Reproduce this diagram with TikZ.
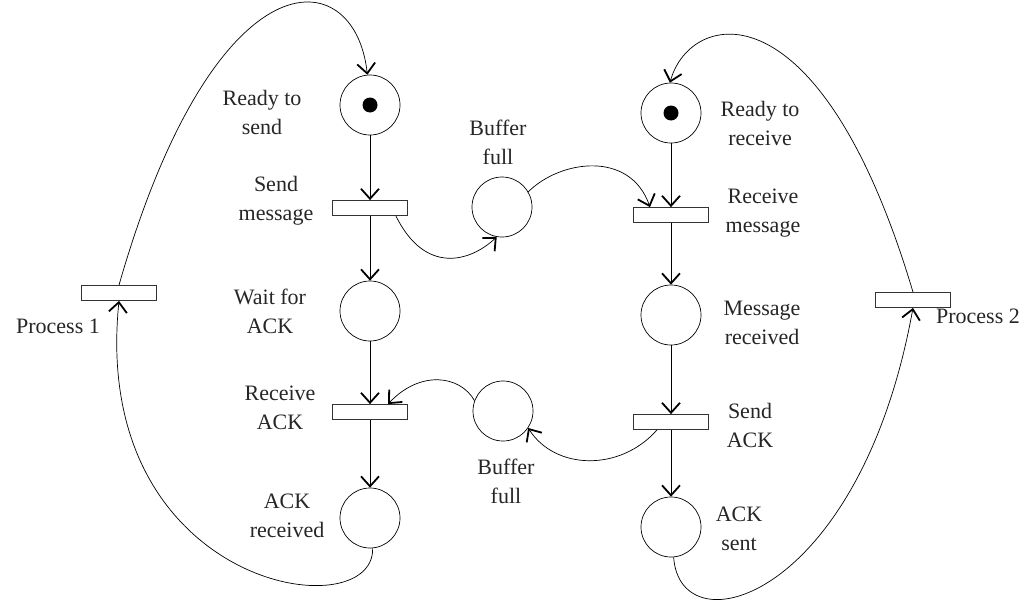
\documentclass[tikz,border=0pt]{standalone}
\usepackage{fontspec}
\setmainfont{Liberation Serif}
\usetikzlibrary{arrows.meta}
\begin{document}
\begin{tikzpicture}[x=1pt,y=-1pt,
  place/.style={circle,draw,line width=0.7pt,minimum size=60pt,inner sep=0pt},
  trans/.style={rectangle,draw=black!80,line width=0.8pt,minimum width=75pt,minimum height=15pt,inner sep=0pt},
  token/.style={circle,fill=black,minimum size=15pt,inner sep=0pt},
  lbl/.style={align=center,font=\fontsize{22}{29}\selectfont,text=black!85,inner sep=0pt},
  arr/.style={line width=0.7pt,-{Straight Barb[length=10pt,width=18pt,line width=1.8pt]}},
  ln/.style={line width=0.7pt}]
\useasboundingbox (0,0) rectangle (1031,608);
% places and transitions, left
\node[place] (rs) at (370,105) {};
\node[token] (rst) at (370,105) {};
\node[trans] (sm) at (370,208) {};
\node[place] (wa) at (370,311) {};
\node[trans] (ra) at (370,412) {};
\node[place] (ar) at (370,518) {};
\node[trans] (p1) at (119,293) {};
% middle
\node[place] (bf1) at (502,207) {};
\node[place] (bf2) at (503,411) {};
% right
\node[place] (rr) at (671,113) {};
\node[token] (rrt) at (671,113) {};
\node[trans] (rm) at (671,215) {};
\node[place] (mr) at (671,315) {};
\node[trans] (sa) at (671,422) {};
\node[place] (as) at (671,527) {};
\node[trans] (p2) at (913,300) {};
% labels
\node[lbl] (l1) at (262,112) {Ready to\\send};
\node[lbl] (l2) at (276,201) {Send\\message};
\node[lbl] (l3) at (270,311) {Wait for\\ACK};
\node[lbl] (l4) at (280,408) {Receive\\ACK};
\node[lbl] (l5) at (287,516) {ACK\\received};
\node[lbl] (l6) at (498,142) {Buffer\\full};
\node[lbl] (l7) at (506,481) {Buffer\\full};
\node[lbl] (l8) at (760,123) {Ready to\\receive};
\node[lbl] (l9) at (763,213) {Receive\\message};
\node[lbl] (l10) at (762,323) {Message\\received};
\node[lbl] (l11) at (750,425) {Send\\ACK};
\node[lbl] (l12) at (739,529) {ACK\\sent};
\node[lbl] (l13) at (58,326) {Process 1};
\node[lbl] (l14) at (978,316) {Process 2};
% vertical arcs
\draw[arr] (rs) -- (sm);
\draw[arr] (sm) -- (wa);
\draw[arr] (wa) -- (ra);
\draw[arr] (ra) -- (ar);
\draw[arr] (rr) -- (rm);
\draw[arr] (rm) -- (mr);
\draw[arr] (mr) -- (sa);
\draw[arr] (sa) -- (as);
% curved arcs
\draw[arr] (p1.north) .. controls (215,-50) and (355,-40) .. (rs.95);
\draw[arr] (ar.-85) .. controls (375,630) and (90,590) .. (p1.south);
\draw[arr] ([xshift=-12pt]sm.south east) .. controls (425,275) and (470,262) .. (bf1.-100);
\draw[arr] (bf1.30) .. controls (560,160) and (630,150) .. ([xshift=-21pt]rm.north);
\draw[arr] ([xshift=-14pt]sa.south) .. controls (620,472) and (555,470) .. (bf2.-34);
\draw[arr] (bf2.160) .. controls (460,375) and (420,370) .. ([xshift=18pt]ra.north);
\draw[arr] (p2.north) .. controls (820,-20) and (690,10) .. (rr.92);
\draw[arr] (as.-85) .. controls (680,650) and (860,600) .. (p2.south);
\end{tikzpicture}
\end{document}
